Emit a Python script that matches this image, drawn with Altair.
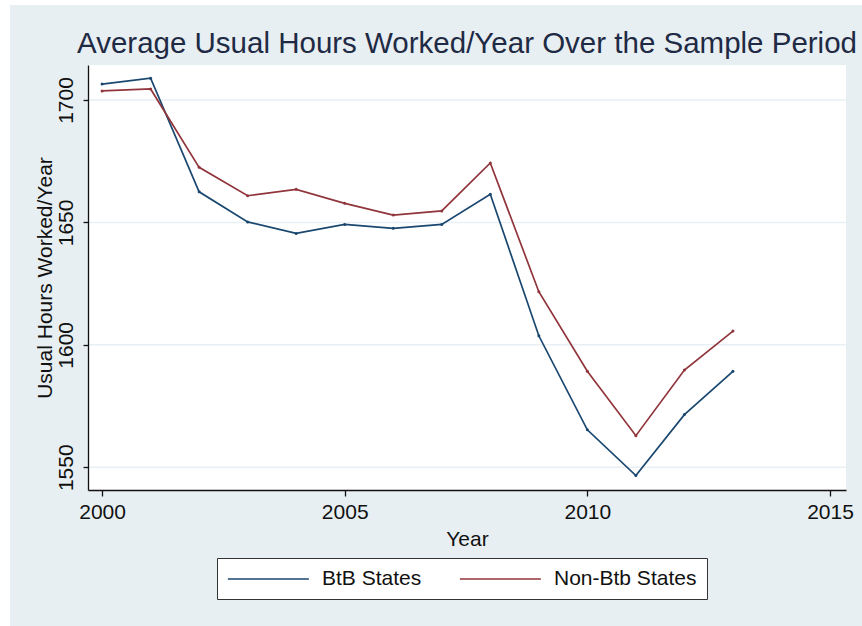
import altair as alt
import pandas as pd

# Average usual hours worked per year, by group of states
years = list(range(2000, 2014))
btb_hours = [1706.5, 1708.9, 1662.5, 1650.2, 1645.5, 1649.2, 1647.6,
             1649.2, 1661.5, 1603.7, 1565.3, 1546.6, 1571.5, 1589.2]
non_btb_hours = [1703.7, 1704.5, 1672.5, 1660.9, 1663.5, 1657.8, 1653.0,
                 1654.7, 1674.3, 1621.7, 1589.2, 1562.9, 1589.7, 1605.6]
series_names = ["BtB States", "Non-Btb States"]
series_colors = ["#1a476f", "#90353b"]
x_ticks = [2000, 2005, 2010, 2015]
y_ticks = [1550, 1600, 1650, 1700]
x_range = [1999.71, 2015.33]
y_range = [1540.7, 1714.3]

df = pd.DataFrame({
    "Year": years + years,
    "Hours": btb_hours + non_btb_hours,
    "Group": [series_names[0]] * len(years) + [series_names[1]] * len(years),
})
grid_df = pd.DataFrame({"Hours": y_ticks})
panel_df = pd.DataFrame({"panel": [0]})

W, H = 758, 425
PAD = {"left": 88, "top": 65, "right": 16, "bottom": 136}
FONT = "Liberation Sans"
INK = "#111111"
REGION = "#e7eff2"

# Long horizontal legend key: a line drawn from the symbol's left edge
# out to the right, wider than its nominal size.
LEGEND_KEY = "M-1,0H7"

x_scale = alt.Scale(domain=x_range, nice=False, zero=False)
y_scale = alt.Scale(domain=y_range, nice=False, zero=False)

x_axis = alt.Axis(
    values=x_ticks, format="d", title="Year", grid=False, zindex=1,
    labelFontSize=21, labelPadding=5, labelFlush=False,
    labelColor=INK, labelFont=FONT,
    tickSize=6, tickColor=INK, tickWidth=1.3,
    domainColor=INK, domainWidth=1.3,
    titleFontSize=21, titleFontWeight="normal", titleFont=FONT,
    titleColor=INK, titleY=55, titleBaseline="alphabetic",
)
y_axis = alt.Axis(
    values=y_ticks, format="d", title="Usual Hours Worked/Year",
    grid=False, zindex=1,
    labelAngle=270, labelAlign="center", labelBaseline="alphabetic",
    labelPadding=11, labelFontSize=21, labelColor=INK, labelFont=FONT,
    labelFlush=False,
    tickSize=5, tickColor=INK, tickWidth=1.3,
    domainColor=INK, domainWidth=1.3,
    titleFontSize=21, titleFontWeight="normal", titleFont=FONT,
    titleColor=INK, titleAngle=270, titleX=-37, titleY=212.5,
    titleAlign="center", titleBaseline="alphabetic",
)

# Graph region (tinted, inset from the page edge) and white plot region
region = alt.Chart(panel_df).mark_rect(color=REGION).encode(
    x=alt.value(10 - PAD["left"]), x2=alt.value(W + PAD["right"]),
    y=alt.value(5 - PAD["top"]), y2=alt.value(H + PAD["bottom"]),
)
plot_bg = alt.Chart(panel_df).mark_rect(color="white").encode(
    x=alt.value(0), x2=alt.value(W), y=alt.value(0), y2=alt.value(H),
)

# Horizontal grid lines at the labelled hour values
grid = alt.Chart(grid_df).mark_rule(color="#e9f0f3", strokeWidth=1.5).encode(
    y=alt.Y("Hours:Q", scale=y_scale, axis=y_axis),
)

lines = alt.Chart(df).mark_line(
    strokeWidth=1.7,
    point=alt.OverlayMarkDef(filled=True, size=9),
).encode(
    x=alt.X("Year:Q", scale=x_scale, axis=x_axis),
    y=alt.Y("Hours:Q", scale=y_scale, axis=y_axis),
    color=alt.Color(
        "Group:N",
        scale=alt.Scale(domain=series_names, range=series_colors),
        legend=alt.Legend(
            title=None, orient="none", legendX=129, legendY=493, zindex=1,
            direction="horizontal", symbolType=LEGEND_KEY, symbolSize=410,
            symbolStrokeWidth=1.6, labelOffset=73, columnPadding=34,
            padding=10, strokeColor="#333333", fillColor="white",
            labelFontSize=21, labelFont=FONT, labelColor=INK,
            labelLimit=300,
        ),
    ),
)

chart = alt.layer(region, plot_bg, grid, lines).properties(
    width=W,
    height=H,
    padding=PAD,
    autosize=alt.AutoSizeParams(type="none"),
    title=alt.TitleParams(
        text="Average Usual Hours Worked/Year Over the Sample Period",
        fontSize=29.5, font=FONT, fontWeight="normal", color="#1f2a44",
        anchor="middle", baseline="alphabetic", offset=10, dy=87, zindex=1,
    ),
).configure(
    background="white",
).configure_view(
    fill="white", stroke="transparent",
)

chart.save("out.html", embed_options={"renderer": "svg", "actions": False})
